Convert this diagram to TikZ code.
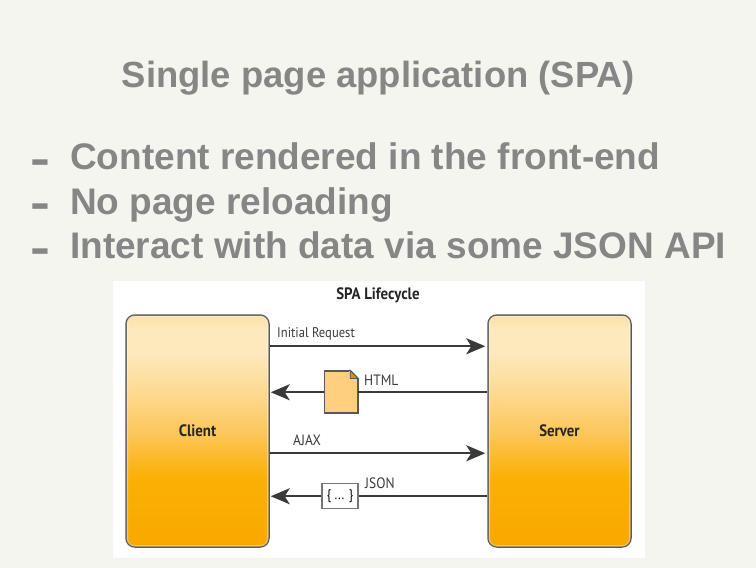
\documentclass[tikz,border=0pt]{standalone}
\usepackage{fontspec}
\setmainfont{Liberation Sans}
\newfontfamily\figfont[FakeStretch=0.9]{PT Sans}
\newfontfamily\dashfont[FakeStretch=1.3]{Liberation Sans}
\usetikzlibrary{arrows.meta,positioning,calc}
\definecolor{slidebg}{HTML}{F5F5F0}
\definecolor{slidetext}{HTML}{868686}
\definecolor{figline}{HTML}{3A3A3A}
\definecolor{docfill}{HTML}{FDCF7F}
\definecolor{boxT}{HTML}{FDDFA5}
\definecolor{boxA}{HTML}{FDE9BC}
\definecolor{boxB}{HTML}{FDD98F}
\definecolor{boxM}{HTML}{FCC75E}
\definecolor{boxC}{HTML}{FBB004}
\definecolor{boxD}{HTML}{F9A800}
\pgfdeclareverticalshading{lifeshade}{100bp}{
  color(0bp)=(boxD);
  color(25bp)=(boxD);
  color(40bp)=(boxC);
  color(50bp)=(boxM);
  color(58bp)=(boxB);
  color(67bp)=(boxA);
  color(72bp)=(boxA);
  color(75bp)=(boxT);
  color(100bp)=(boxT)}
\tikzset{
title/.style = {font=\fontsize{36.4}{36}\selectfont\bfseries, text=slidetext},
bullet/.style = {font=\fontsize{37}{37}\selectfont\bfseries, text=slidetext, anchor=base west, inner sep=0pt},
dashmark/.style = {font=\dashfont\fontsize{46}{46}\selectfont\bfseries, text=slidetext, anchor=base west, inner sep=0pt},
lifebox/.style = {draw=figline!85, line width=1.5pt, rounded corners=9pt, shading=lifeshade, minimum width=143pt, minimum height=232pt, font=\figfont\fontsize{16.5}{16}\selectfont\bfseries, text=black!85},
rim/.style = {draw=white, opacity=.35, line width=1.5pt, rounded corners=7pt},
tag/.style = {font=\figfont\fontsize{15}{15}\selectfont, text=figline, anchor=base west, inner sep=0pt},
flow/.style = {draw=figline, line width=2pt, -{Stealth[length=19pt,width=16pt,inset=5pt]}},
wire/.style = {draw=figline, line width=2pt},
htmlicon/.style = {draw=figline!85, line width=1.2pt, fill=docfill, minimum width=33pt, minimum height=42pt, inner sep=0pt},
jsonicon/.style = {draw=figline!70, line width=1.2pt, fill=white, minimum width=36pt, minimum height=25pt, inner sep=0pt, font=\figfont\fontsize{14}{14}\selectfont}
}
\begin{document}
\begin{tikzpicture}[x=1pt,y=-1pt]
  \useasboundingbox (0,0) rectangle (756,568);
  \fill [slidebg] (0,0) rectangle (756,568);
  \fill [white] (113,281) rectangle (645,558);

  \node [title] (heading) at (378.5,78) {Single page application (SPA)};
  \node [bullet] (point1) at (70,169) {Content rendered in the front-end};
  \node [bullet] (point2) at (70,214) {No page reloading};
  \node [bullet] (point3) at (70,258) {Interact with data via some JSON API};
  \node [dashmark] (dash1) at (30,174) {-};
  \node [dashmark] (dash2) at (30,218) {-};
  \node [dashmark] (dash3) at (30,263) {-};

  \node [font=\figfont\fontsize{16.5}{16}\selectfont\bfseries, text=black!85] (figtitle) at (378,295) {SPA Lifecycle};
  \node [lifebox] (client) at (197.5,431) {Client};
  \node [lifebox] (server) at (559.5,431) {Server};
  \foreach \side in {client,server}
    \draw [rim] ($(\side.north west)+(2,2)$) rectangle ($(\side.south east)+(-2,-2)$);

  \coordinate (req)    at ($(client.north east)+(0,32)$);
  \coordinate (reqend) at ($(server.north west)+(-2,32)$);
  \coordinate (ajax)   at ($(client.north east)+(0,139)$);
  \coordinate (ajaxend) at ($(server.north west)+(-2,139)$);
  \coordinate (html)   at ($(server.north west)+(0,78)$);
  \coordinate (htmlend) at ($(client.north east)+(1,78)$);
  \coordinate (json)   at ($(server.north west)+(0,182)$);
  \coordinate (jsonend) at ($(client.north east)+(1,182)$);

  \node [htmlicon] (htmldoc) at (341,392) {};
  \node [jsonicon] (jsondoc) at (340,496) {\{ ... \}};
  \fill [white] ($(htmldoc.north east)+(-9,-1)$) rectangle ($(htmldoc.north east)+(1,9)$);
  \draw [figline!85, line width=1.2pt] ($(htmldoc.north east)+(-8,0)$) -- ($(htmldoc.north east)+(0,8)$);
  \draw [figline!85, line width=1.2pt] (htmldoc.north west) -- ($(htmldoc.north east)+(-8,0)$);
  \draw [figline!85, line width=1.2pt] ($(htmldoc.north east)+(0,8)$) -- (htmldoc.south east);
  \draw [figline!85, line width=.8pt, fill=boxC!85!black] ($(htmldoc.north east)+(-8,0)$) -- ($(htmldoc.north east)+(-8,8)$) -- ($(htmldoc.north east)+(0,8)$) -- cycle;

  \draw [flow] (req) -- (reqend);
  \draw [wire] (html) -- (htmldoc.east |- html);
  \draw [flow] (htmldoc.west |- html) -- (htmlend);
  \draw [flow] (ajax) -- (ajaxend);
  \draw [wire] (json) -- (jsondoc.east |- json);
  \draw [flow] (jsondoc.west |- json) -- (jsonend);

  \node [tag, font=\figfont\fontsize{14}{14}\selectfont] (reqlabel) at (277,337) {Initial Request};
  \node [tag] (htmllabel) at (364,385) {HTML};
  \node [tag] (ajaxlabel) at (293,445) {AJAX};
  \node [tag] (jsonlabel) at (365,488) {JSON};
\end{tikzpicture}
\end{document}
